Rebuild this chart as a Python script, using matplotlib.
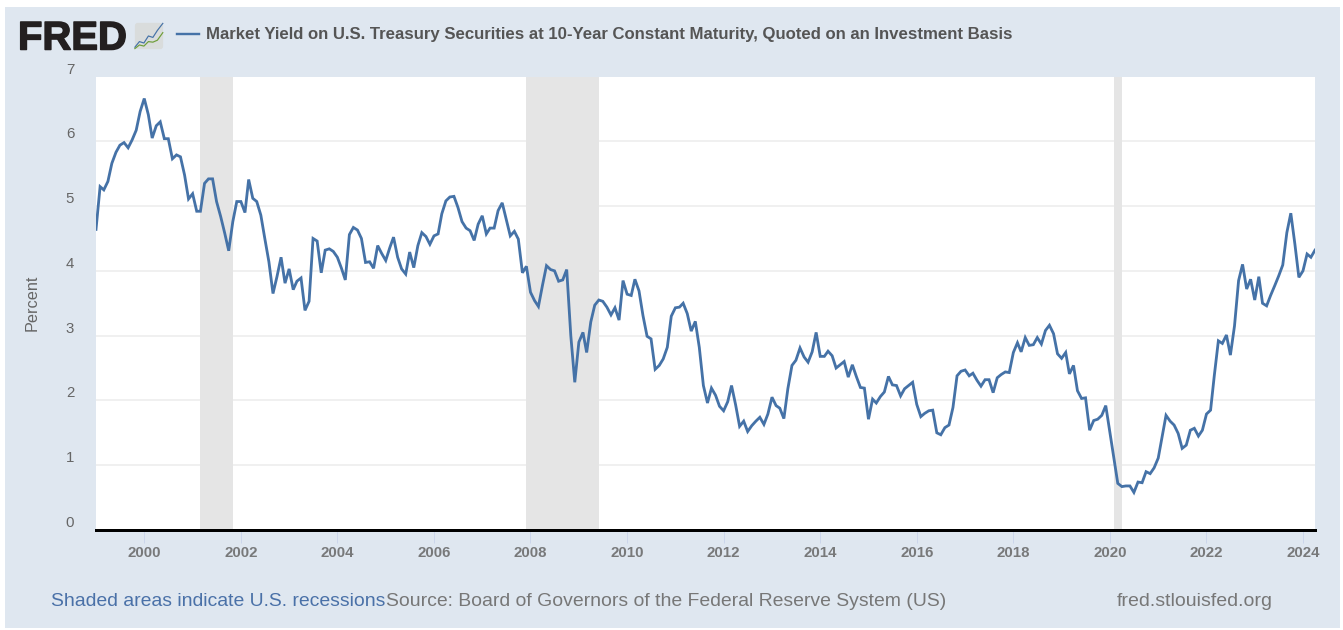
"""
FRED 10-year Treasury yield chart
"""

import pandas as pd
from matplotlib import pyplot as plt
from matplotlib.patches import FancyBboxPatch, Rectangle
import matplotlib.patheffects as pe

W, H = 1343, 630

yields = [
    4.64, 5.30, 5.25, 5.38, 5.66, 5.83, 5.94, 5.98, 5.90, 6.02, 6.17, 6.46,
    6.66, 6.41, 6.05, 6.24, 6.30, 6.04, 6.04, 5.73, 5.79, 5.76, 5.48, 5.11,
    5.19, 4.92, 4.92, 5.35, 5.42, 5.42, 5.07, 4.84, 4.58, 4.31, 4.76, 5.07,
    5.07, 4.90, 5.41, 5.12, 5.07, 4.86, 4.50, 4.14, 3.65, 3.91, 4.21, 3.81,
    4.03, 3.71, 3.84, 3.89, 3.39, 3.53, 4.50, 4.46, 3.97, 4.32, 4.34, 4.30,
    4.21, 4.04, 3.86, 4.56, 4.67, 4.63, 4.50, 4.13, 4.14, 4.04, 4.39, 4.27,
    4.16, 4.36, 4.52, 4.21, 4.03, 3.95, 4.29, 4.05, 4.39, 4.59, 4.53, 4.41,
    4.54, 4.57, 4.88, 5.08, 5.14, 5.15, 4.98, 4.76, 4.66, 4.62, 4.47, 4.72,
    4.85, 4.57, 4.66, 4.66, 4.93, 5.05, 4.80, 4.54, 4.61, 4.49, 3.97, 4.07,
    3.67, 3.54, 3.45, 3.78, 4.08, 4.02, 4.00, 3.84, 3.86, 4.02, 3.00, 2.28,
    2.90, 3.05, 2.74, 3.21, 3.47, 3.55, 3.53, 3.44, 3.32, 3.43, 3.24, 3.85,
    3.64, 3.62, 3.87, 3.69, 3.31, 2.99, 2.95, 2.48, 2.54, 2.64, 2.82, 3.30,
    3.43, 3.44, 3.50, 3.34, 3.07, 3.22, 2.82, 2.23, 1.96, 2.19, 2.08, 1.91,
    1.84, 1.98, 2.23, 1.93, 1.60, 1.68, 1.52, 1.61, 1.68, 1.74, 1.63, 1.79,
    2.05, 1.92, 1.88, 1.72, 2.18, 2.54, 2.62, 2.81, 2.67, 2.59, 2.75, 3.05,
    2.68, 2.68, 2.76, 2.69, 2.50, 2.55, 2.60, 2.36, 2.55, 2.37, 2.20, 2.19,
    1.71, 2.02, 1.96, 2.06, 2.13, 2.37, 2.24, 2.23, 2.07, 2.18, 2.23, 2.28,
    1.94, 1.75, 1.80, 1.84, 1.85, 1.50, 1.47, 1.58, 1.62, 1.89, 2.38, 2.45,
    2.47, 2.38, 2.42, 2.31, 2.22, 2.32, 2.32, 2.12, 2.35, 2.40, 2.44, 2.43,
    2.74, 2.89, 2.75, 2.97, 2.85, 2.86, 2.97, 2.87, 3.08, 3.16, 3.03, 2.72,
    2.65, 2.74, 2.41, 2.54, 2.15, 2.03, 2.04, 1.54, 1.69, 1.71, 1.77, 1.92,
    1.51, 1.10, 0.72, 0.67, 0.68, 0.68, 0.58, 0.74, 0.73, 0.90, 0.87, 0.96,
    1.11, 1.46, 1.77, 1.68, 1.62, 1.49, 1.26, 1.31, 1.54, 1.57, 1.45, 1.54,
    1.79, 1.85, 2.38, 2.92, 2.88, 3.01, 2.70, 3.15, 3.85, 4.10, 3.72, 3.87,
    3.55, 3.91, 3.50, 3.46, 3.62, 3.77, 3.92, 4.09, 4.59, 4.89, 4.41, 3.90,
    4.00, 4.26, 4.21, 4.32,
]
months = pd.date_range("1999-01-01", periods=len(yields), freq="MS")

recessions = [("2001-03-01", "2001-11-01"), ("2007-12-01", "2009-06-01"),
              ("2020-02-01", "2020-04-01")]
y_ticks = [0, 1, 2, 3, 4, 5, 6, 7]
x_tick_years = list(range(2000, 2025, 2))

title = ("Market Yield on U.S. Treasury Securities at 10-Year Constant Maturity,"
         " Quoted on an Investment Basis")
note = "Shaded areas indicate U.S. recessions"
source = "Source: Board of Governors of the Federal Reserve System (US)"
site = "fred.stlouisfed.org"

# little chart in the logo icon
icon_blue = [0.10, 0.30, 0.25, 0.50, 0.45, 0.70, 0.95]
icon_green = [0.05, 0.18, 0.14, 0.30, 0.28, 0.35, 0.62]

BG = "#dfe7f0"
LINE = "#4572a7"
GREY = "#666666"

plt.rcParams["font.family"] = ["Liberation Sans", "DejaVu Sans"]


def px(size):
    return size * 72 / 100


def figText(x, y, s, **kw):
    return fig.text(x / W, 1 - y / H, s, va="center", **kw)


fig = plt.figure(figsize=(W / 100, H / 100), dpi=100, facecolor="white")
fig.patches.append(Rectangle((5 / W, 1 - 628 / H), 1335 / W, 621 / H,
                             transform=fig.transFigure, facecolor=BG,
                             edgecolor="none", zorder=-5))

ax = fig.add_axes([96 / W, 1 - 530 / H, (1315 - 96) / W, (530 - 76.5) / H])
ax.set_facecolor("white")
ax.set_xlim(months[0], months[-1])
ax.set_ylim(0, 7)
for side in ["top", "left", "right"]:
    ax.spines[side].set_visible(False)
ax.spines["bottom"].set_color("black")
ax.spines["bottom"].set_linewidth(px(3))
ax.spines["bottom"].set_zorder(5)

for v in y_ticks[1:-1]:
    ax.axhline(v, color="#ececec", lw=px(1.5), zorder=1)
for start, end in recessions:
    ax.axvspan(pd.Timestamp(start), pd.Timestamp(end), color="#e5e5e5", lw=0, zorder=2)
ax.plot(months, yields, color=LINE, lw=px(2.8), zorder=3, solid_joinstyle="miter")

ax.set_yticks([])
ax.set_xticks([pd.Timestamp(f"{year}-01-01") for year in x_tick_years])
ax.set_xticklabels([str(year) for year in x_tick_years], fontsize=px(15),
                   color=GREY, fontweight="bold", alpha=0.85)
ax.tick_params(axis="x", length=px(13), width=px(1), color="#ccd6eb", pad=px(3))

for v in y_ticks:
    ax.annotate(str(v), xy=(0, v), xycoords=("axes fraction", "data"),
                xytext=(px(-26), px(7)), textcoords="offset points", ha="center",
                va="center", fontsize=px(15), color=GREY)

figText(32, 303, "Percent", rotation=90, ha="center", fontsize=px(16.2), color=GREY)

# header
figText(18, 38.5, "FRED", ha="left", fontsize=px(40), fontweight="bold", color="#231f20",
        path_effects=[pe.withStroke(linewidth=px(1.5), foreground="#231f20")])
fig.add_artist(plt.Line2D([177 / W, 199 / W], [1 - 34 / H] * 2, color=LINE, lw=px(2.4)))
figText(206, 34.5, title, ha="left", fontsize=px(16.7), fontweight="bold", color="#555555")

icon = fig.add_axes([134 / W, 1 - 50 / H, 30 / W, 28 / H])
icon.set_axis_off()
icon.set_xlim(0, 1)
icon.set_ylim(0, 1)
icon.add_patch(FancyBboxPatch((0.03, 0.03), 0.94, 0.94, boxstyle="round,pad=0,rounding_size=0.1",
                              facecolor="#d9dcdc", edgecolor="none"))
icon_x = [0.03, 0.18, 0.33, 0.48, 0.63, 0.78, 0.96]
icon.plot(icon_x, icon_blue, color=LINE, lw=px(1.2))
icon.plot(icon_x, icon_green, color="#6f9e3a", lw=px(1.2))

# footer
figText(51, 601, note, ha="left", fontsize=px(19.4), color="#4a71a8")
figText(386, 601, source, ha="left", fontsize=px(19.4), color="#777777")
figText(1117, 601, site, ha="left", fontsize=px(19.5), color="#777777")

fig.savefig("out.png", dpi=100, facecolor="white")
